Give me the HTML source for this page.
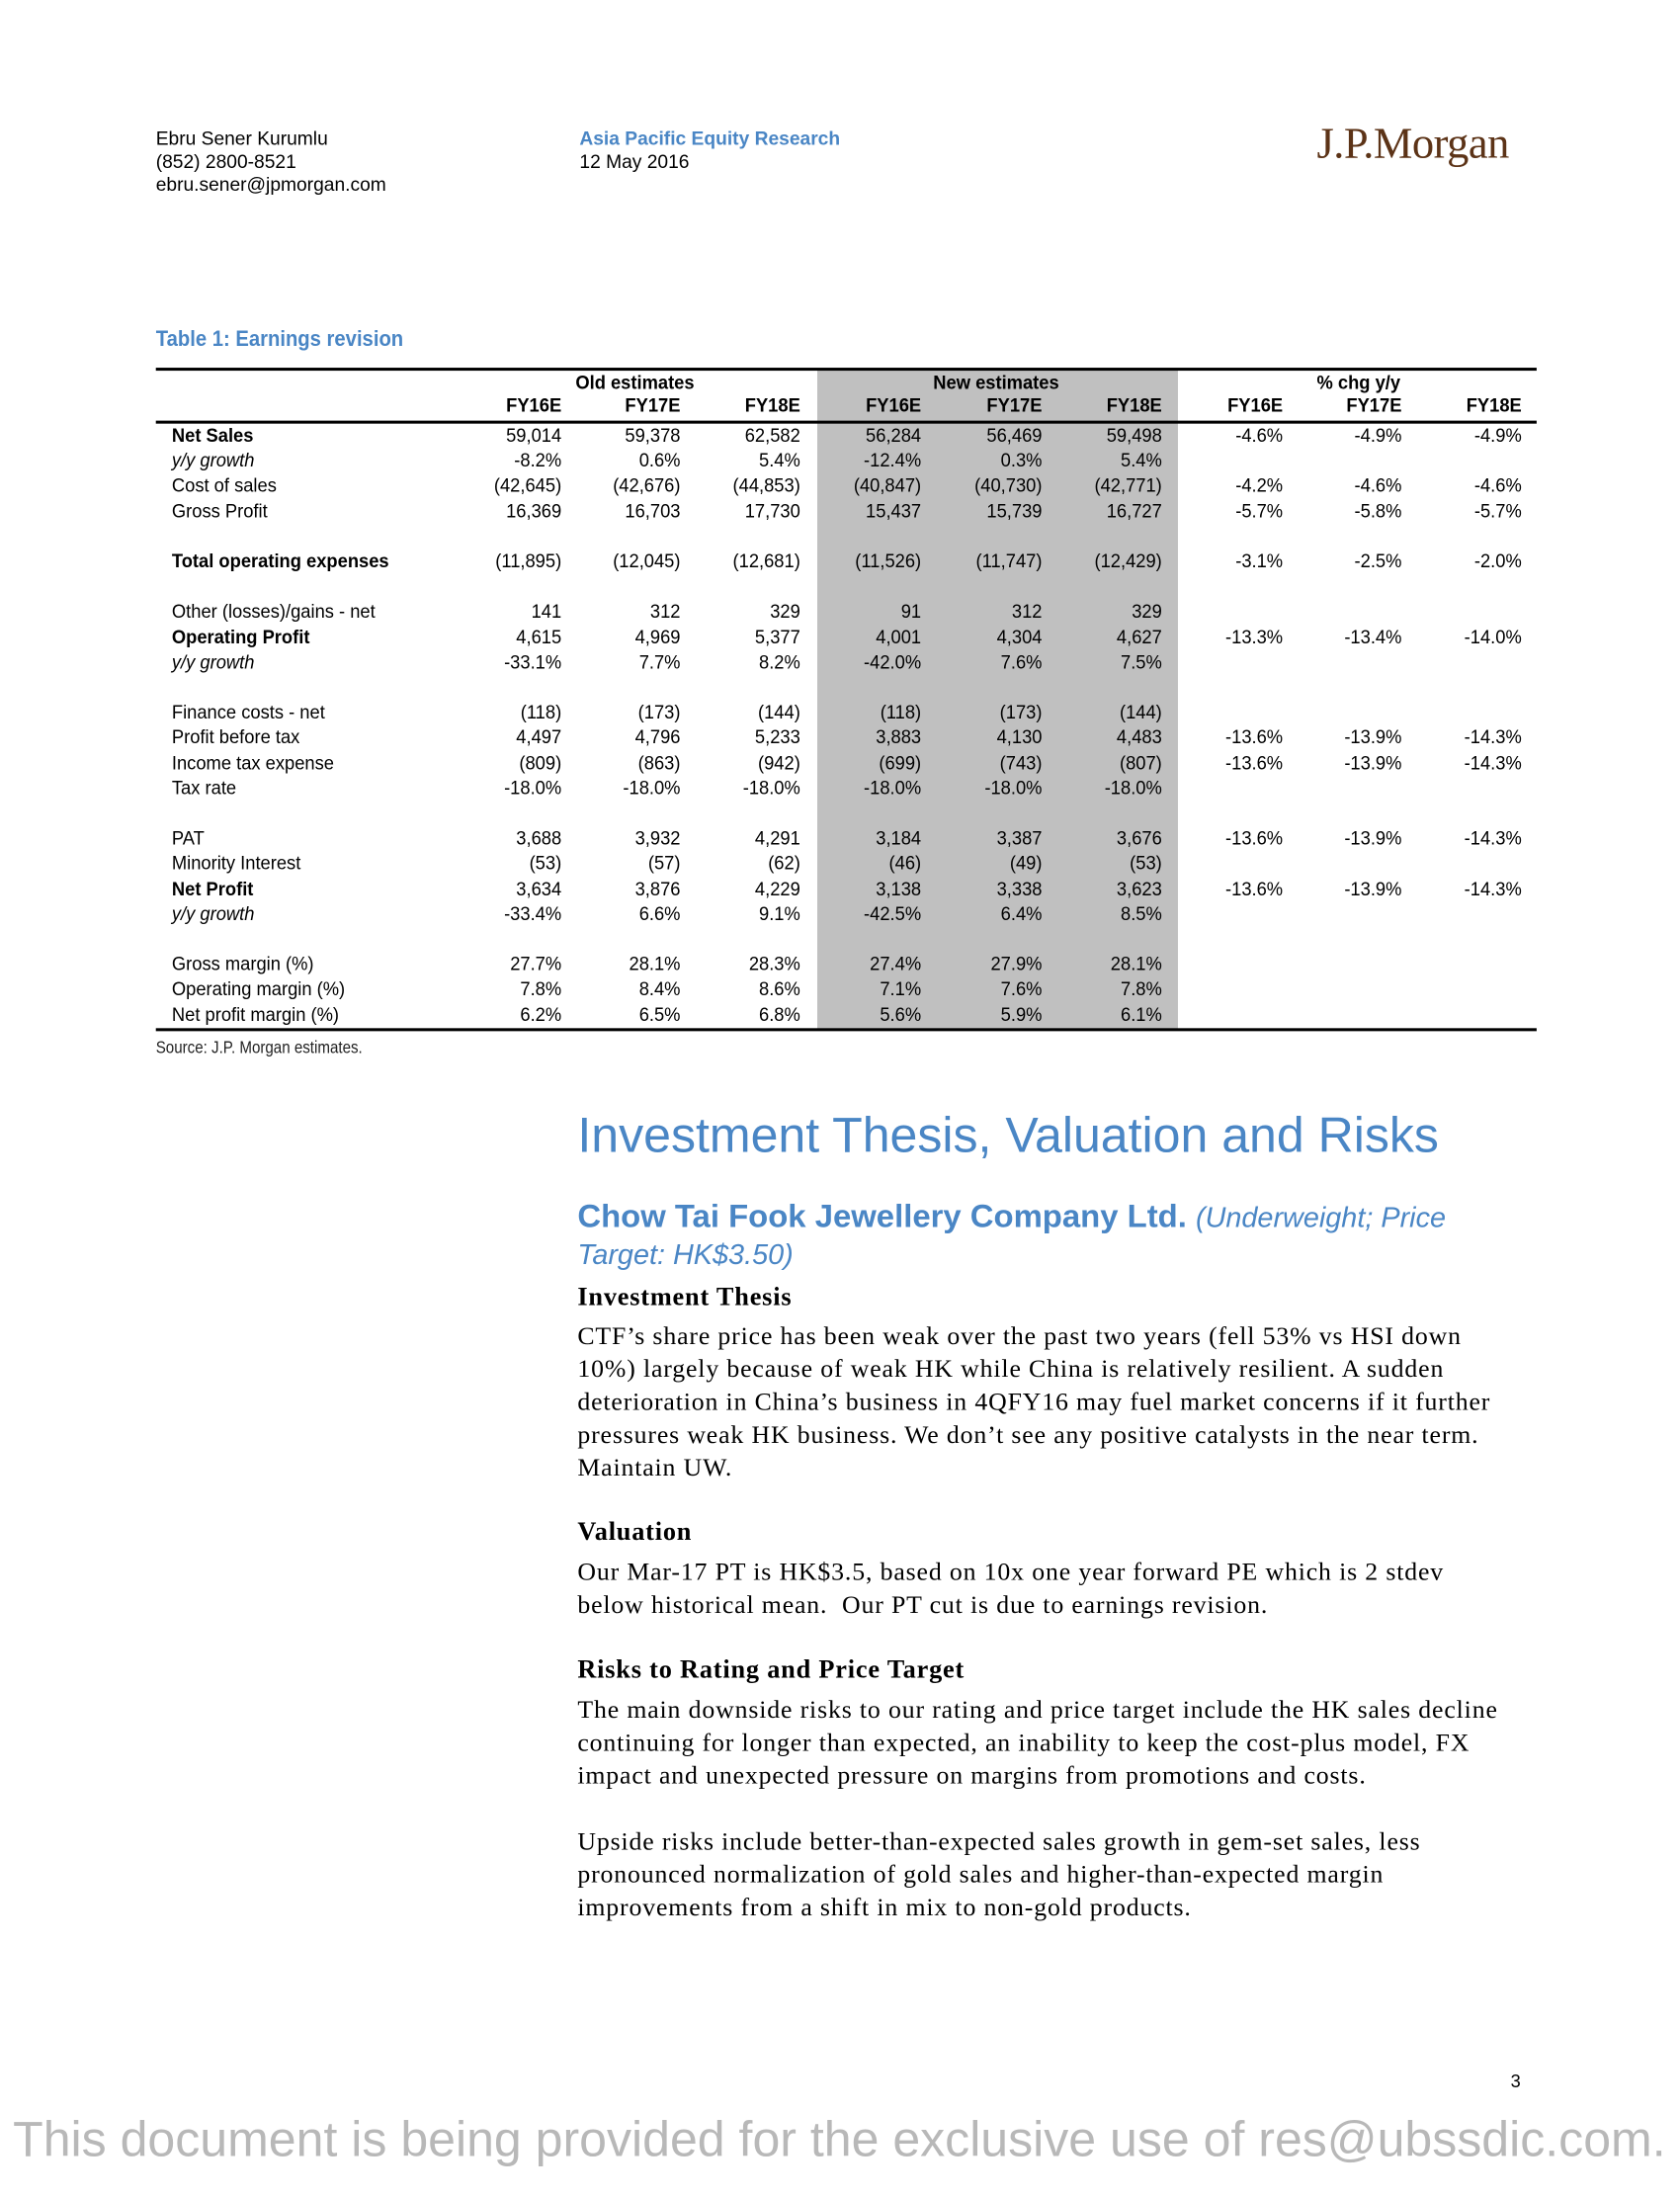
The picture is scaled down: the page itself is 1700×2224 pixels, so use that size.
<!DOCTYPE html>
<html><head><meta charset="utf-8">
<style>
html,body{margin:0;padding:0;background:#fff;}
body{width:1700px;height:2200px;position:relative;overflow:hidden;font-family:"Liberation Sans",Arial,sans-serif;}
#page{position:absolute;left:0;top:0;width:1700px;height:2200px;transform:scale(1.011);transform-origin:0 0;}
.a{position:absolute;white-space:nowrap;}
.hdr{font-size:19px;line-height:23px;color:#000;}
.cell{position:absolute;white-space:nowrap;font-family:"Liberation Sans Narrow","Liberation Sans",sans-serif;font-size:19.5px;line-height:25px;transform-origin:right center;transform:translateX(-100%) scaleX(0.93);text-align:right;}
.lab{position:absolute;white-space:nowrap;font-family:"Liberation Sans Narrow","Liberation Sans",sans-serif;font-size:19.5px;line-height:25px;transform-origin:left center;transform:scaleX(0.93);}
.serif{font-family:"Liberation Serif","Times New Roman",serif;font-size:25.5px;letter-spacing:0.85px;line-height:33px;color:#000;}
.sh{font-family:"Liberation Serif",serif;font-size:26px;letter-spacing:0.8px;font-weight:bold;}
</style></head><body>
<div id="page">
<div class="a hdr" style="left:156px;top:128px">Ebru Sener Kurumlu<br>(852) 2800-8521<br>ebru.sener@jpmorgan.com</div>
<div class="a hdr" style="left:580px;top:128px"><b style="color:#4a86c5">Asia Pacific Equity Research</b><br>12 May 2016</div>
<div class="a" style="left:1318px;top:118px;font-family:'Liberation Serif',serif;font-size:44px;color:#5c3317;letter-spacing:-0.5px">J.P.Morgan</div>

<div class="a" style="left:156px;top:326px;font-size:22px;font-weight:bold;color:#4a86c5;transform-origin:left center;transform:scaleX(0.91)">Table 1: Earnings revision</div>

<div id="tbl">
<div class="a" style="left:818px;top:369px;width:361px;height:661px;background:#c0c0c0"></div>
<div class="a" style="left:156px;top:368px;width:1382px;height:3px;background:#000"></div>
<div class="a" style="left:156px;top:421px;width:1382px;height:3px;background:#000"></div>
<div class="a" style="left:156px;top:1029px;width:1382px;height:3px;background:#000"></div>
<div class="lab" style="left:576px;top:371px;font-weight:bold">Old estimates</div>
<div class="lab" style="left:934px;top:371px;font-weight:bold">New estimates</div>
<div class="lab" style="left:1318px;top:371px;font-weight:bold">% chg y/y</div>
</div>

<div class="a" style="left:156px;top:1039px;font-size:17px;color:#222;transform-origin:left center;transform:scaleX(0.88)">Source: J.P. Morgan estimates.</div>

<div class="a" style="left:578px;top:1108px;font-size:49.5px;color:#4a86c5">Investment Thesis, Valuation and Risks</div>
<div class="a" style="left:578px;top:1200px;font-size:32.5px;color:#4a86c5;line-height:35px"><b>Chow Tai Fook Jewellery Company Ltd.</b> <i style="font-size:28.5px">(Underweight; Price</i><br><i style="font-size:28.5px">Target: HK$3.50)</i></div>

<div class="a sh" style="left:578px;top:1283px">Investment Thesis</div>
<div class="a serif" style="left:578px;top:1320px">CTF’s share price has been weak over the past two years (fell 53% vs HSI down<br>10%) largely because of weak HK while China is relatively resilient. A sudden<br>deterioration in China’s business in 4QFY16 may fuel market concerns if it further<br>pressures weak HK business. We don’t see any positive catalysts in the near term.<br>Maintain UW.</div>

<div class="a sh" style="left:578px;top:1518px">Valuation</div>
<div class="a serif" style="left:578px;top:1556px">Our Mar-17 PT is HK$3.5, based on 10x one year forward PE which is 2 stdev<br>below historical mean.&nbsp; Our PT cut is due to earnings revision.</div>

<div class="a sh" style="left:578px;top:1656px">Risks to Rating and Price Target</div>
<div class="a serif" style="left:578px;top:1694px">The main downside risks to our rating and price target include the HK sales decline<br>continuing for longer than expected, an inability to keep the cost-plus model, FX<br>impact and unexpected pressure on margins from promotions and costs.</div>
<div class="a serif" style="left:578px;top:1826px">Upside risks include better-than-expected sales growth in gem-set sales, less<br>pronounced normalization of gold sales and higher-than-expected margin<br>improvements from a shift in mix to non-gold products.</div>

<div class="a" style="left:1512px;top:2073px;font-size:18px">3</div>
<div class="a" style="left:13px;top:2113px;font-size:49.5px;color:#b8b8b8">This document is being provided for the exclusive use of res@ubssdic.com.</div>
</div>

<script>
const colHeaders=["FY16E","FY17E","FY18E","FY16E","FY17E","FY18E","FY16E","FY17E","FY18E"];
const rowLabels=["Net Sales","y/y growth","Cost of sales","Gross Profit","","Total operating expenses","","Other (losses)/gains - net","Operating Profit","y/y growth","","Finance costs - net","Profit before tax","Income tax expense","Tax rate","","PAT","Minority Interest","Net Profit","y/y growth","","Gross margin (%)","Operating margin (%)","Net profit margin (%)"];
const rowStyle=["b","i","","","","b","","","b","i","","","","","","b","","","b","i","","","",""];
const rowValues=[
["59,014","59,378","62,582","56,284","56,469","59,498","-4.6%","-4.9%","-4.9%"],
["-8.2%","0.6%","5.4%","-12.4%","0.3%","5.4%","","",""],
["(42,645)","(42,676)","(44,853)","(40,847)","(40,730)","(42,771)","-4.2%","-4.6%","-4.6%"],
["16,369","16,703","17,730","15,437","15,739","16,727","-5.7%","-5.8%","-5.7%"],
[],
["(11,895)","(12,045)","(12,681)","(11,526)","(11,747)","(12,429)","-3.1%","-2.5%","-2.0%"],
[],
["141","312","329","91","312","329","","",""],
["4,615","4,969","5,377","4,001","4,304","4,627","-13.3%","-13.4%","-14.0%"],
["-33.1%","7.7%","8.2%","-42.0%","7.6%","7.5%","","",""],
[],
["(118)","(173)","(144)","(118)","(173)","(144)","","",""],
["4,497","4,796","5,233","3,883","4,130","4,483","-13.6%","-13.9%","-14.3%"],
["(809)","(863)","(942)","(699)","(743)","(807)","-13.6%","-13.9%","-14.3%"],
["-18.0%","-18.0%","-18.0%","-18.0%","-18.0%","-18.0%","","",""],
[],
["3,688","3,932","4,291","3,184","3,387","3,676","-13.6%","-13.9%","-14.3%"],
["(53)","(57)","(62)","(46)","(49)","(53)","","",""],
["3,634","3,876","4,229","3,138","3,338","3,623","-13.6%","-13.9%","-14.3%"],
["-33.4%","6.6%","9.1%","-42.5%","6.4%","8.5%","","",""],
[],
["27.7%","28.1%","28.3%","27.4%","27.9%","28.1%","","",""],
["7.8%","8.4%","8.6%","7.1%","7.6%","7.8%","","",""],
["6.2%","6.5%","6.8%","5.6%","5.9%","6.1%","","",""]
];
const colRight=[562,681,801,922,1043,1163,1284,1403,1523];
const tbl=document.getElementById('tbl');
colHeaders.forEach((h,i)=>{
  const d=document.createElement('div');
  d.className='cell';
  d.style.left=colRight[i]+'px';d.style.top='394px';d.style.fontWeight='bold';
  d.textContent=h;
  
  
  tbl.appendChild(d);
});
rowLabels.forEach((lab,r)=>{
  const top=424+r*25.2;
  if(lab){
    const l=document.createElement('div');
    l.className='lab';
    l.style.left='172px';l.style.top=top+'px';
    if(rowStyle[r]==='b')l.style.fontWeight='bold';
    if(rowStyle[r]==='i')l.style.fontStyle='italic';
    l.textContent=lab;
    
    
    tbl.appendChild(l);
  }
  (rowValues[r]||[]).forEach((v,c)=>{
    if(!v)return;
    const d=document.createElement('div');
    d.className='cell';
    d.style.left=colRight[c]+'px';d.style.top=top+'px';
    d.textContent=v;
    
    
    tbl.appendChild(d);
  });
});
</script>
</body></html>
